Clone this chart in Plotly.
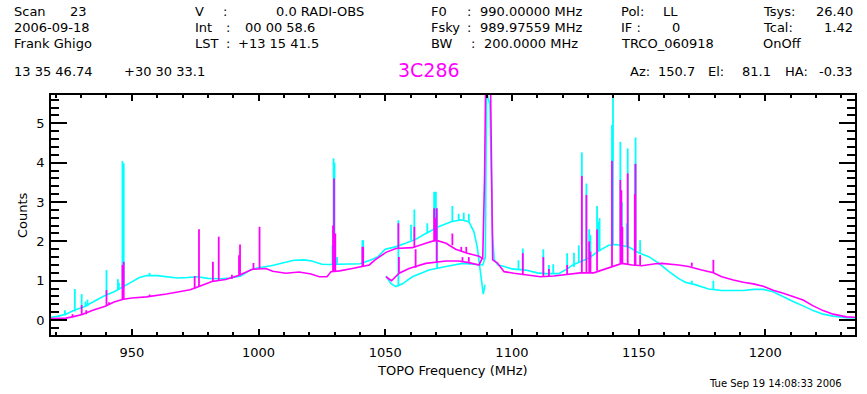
import plotly.graph_objects as go

# ---------------- data ----------------
# Cyan, spectral window A (918 - 1089 MHz)
cyan_a_freq = [918, 921, 924, 927, 931, 935, 939, 943, 946, 950, 953, 956, 960, 964, 968, 972,
               976, 980, 985, 989, 993, 997, 1000, 1005, 1010, 1014, 1018, 1021, 1025, 1028,
               1032, 1036, 1040, 1044, 1047, 1050, 1054, 1058, 1062, 1066, 1071, 1076, 1080,
               1083, 1085, 1086.3, 1087.7, 1088.7, 1089.4]
cyan_a_val = [0.07, 0.10, 0.15, 0.24, 0.33, 0.47, 0.61, 0.72, 0.82, 0.97, 1.08, 1.13, 1.13, 1.10,
              1.07, 1.08, 1.10, 1.06, 1.05, 1.07, 1.12, 1.28, 1.33, 1.38, 1.46, 1.52, 1.53, 1.50,
              1.42, 1.41, 1.42, 1.42, 1.43, 1.52, 1.60, 1.80, 1.86, 1.95, 2.05, 2.20, 2.37, 2.50,
              2.55, 2.50, 2.25, 1.86, 1.19, 0.66, 0.90]

# Cyan, spectral window B (1050 - 1235 MHz)
cyan_b_freq = [1050.3, 1052.2, 1054.2, 1056.8, 1060.7, 1067.3, 1074, 1080.5, 1085, 1088.5, 1089.5,
               1090, 1091.3, 1092, 1092.4, 1093, 1094.5, 1097, 1100, 1105.4, 1110, 1113.2, 1118.5,
               1121.8, 1124, 1127, 1130.3, 1134.3, 1138.2, 1141, 1146, 1150, 1154, 1158, 1162,
               1165.7, 1168.4, 1172.3, 1177.6, 1182.8, 1187, 1191.3, 1195.3, 1199.2, 1203.1,
               1207.1, 1211, 1214.9, 1218.9, 1222.8, 1226.8, 1232, 1235.5]
cyan_b_val = [1.12, 0.93, 0.85, 0.92, 1.10, 1.27, 1.36, 1.44, 1.42, 1.40, 1.60, 5.80, 5.47, 3.30,
              2.12, 1.53, 1.40, 1.36, 1.30, 1.27, 1.20, 1.18, 1.18, 1.30, 1.40, 1.48, 1.57, 1.76,
              1.90, 1.92, 1.86, 1.71, 1.61, 1.44, 1.23, 1.06, 0.96, 0.90, 0.79, 0.75, 0.75, 0.75,
              0.78, 0.78, 0.72, 0.59, 0.47, 0.36, 0.24, 0.15, 0.10, 0.06, 0.05]

# Magenta, spectral window A
mag_a_freq = [918, 924, 926.6, 930.4, 934.6, 939.5, 943, 946.6, 950, 955.8, 963.7, 968.9, 973,
              976.5, 981.6, 987, 992.1, 997.6, 1002.9, 1005.6, 1010.8, 1016, 1020.7, 1024, 1027,
              1028.6, 1032, 1037, 1040, 1043.7, 1046, 1050.3, 1054.2, 1060.7, 1066, 1070, 1074,
              1077.8, 1082.4, 1085, 1087, 1088.8]
mag_a_val = [0.04, 0.05, 0.08, 0.14, 0.25, 0.35, 0.46, 0.53, 0.56, 0.59, 0.66, 0.73, 0.77, 0.85,
             0.98, 1.03, 1.13, 1.29, 1.31, 1.24, 1.19, 1.22, 1.17, 1.10, 1.10, 1.23, 1.25, 1.31,
             1.35, 1.40, 1.53, 1.72, 1.82, 1.84, 1.95, 2.03, 1.95, 1.80, 1.70, 1.66, 1.62, 1.55]

# Magenta, spectral window B
mag_b_freq = [1050.3, 1052.5, 1055.5, 1059.4, 1066, 1074, 1079, 1083, 1087, 1088.5, 1089.2,
              1089.6, 1091.6, 1092.4, 1094.3, 1096.9, 1100.8, 1106, 1111.3, 1116.5, 1121.8, 1127,
              1132.3, 1135.5, 1139.5, 1143.4, 1147.4, 1151.3, 1156.6, 1159.2, 1165.7, 1169.7,
              1174.9, 1179.5, 1182.8, 1185.4, 1187.4, 1191.3, 1195.3, 1199.2, 1203.1, 1207.1,
              1211, 1214.9, 1218.9, 1222.8, 1226.8, 1232, 1235.5]
mag_b_val = [1.10, 1.00, 1.19, 1.31, 1.44, 1.50, 1.50, 1.46, 1.40, 1.60, 3.60, 5.80, 5.80, 1.53,
             1.45, 1.23, 1.19, 1.15, 1.10, 1.12, 1.17, 1.20, 1.20, 1.27, 1.36, 1.44, 1.40, 1.38,
             1.43, 1.44, 1.40, 1.36, 1.27, 1.20, 1.10, 1.05, 1.02, 0.96, 0.92, 0.86, 0.76, 0.68,
             0.59, 0.51, 0.36, 0.24, 0.15, 0.08, 0.07]

# Narrow interference spikes: frequency, continuum level, peak level
cyan_spike_freq = [923.6, 927.5, 930.2, 931.7, 932.5, 940.0, 944.5, 944.9, 946.3, 946.8, 957.0,
                   1029.2, 1029.6, 1030.0, 1031.0, 1041.0, 1041.3, 1055.2, 1060.2, 1061.5, 1066.6,
                   1069.3, 1070.0, 1070.5, 1076.5, 1079.0, 1081.0, 1083.0, 1102.6, 1104.3, 1112.4,
                   1114.6, 1116.3, 1121.8, 1124.5, 1126.4, 1127.6, 1129.4, 1130.5, 1131.0, 1133.6,
                   1134.0, 1134.6, 1139.5, 1139.9, 1142.8, 1143.4, 1145.3, 1145.7, 1148.5, 1148.8,
                   1150.6, 1171.0, 1179.5]
cyan_spike_base = [0.12, 0.22, 0.30, 0.33, 0.35, 0.64, 0.76, 0.77, 0.80, 0.82, 1.13,
                   1.41, 1.41, 1.41, 1.41, 1.43, 1.43, 0.86, 2.02, 2.04, 2.20,
                   2.30, 2.35, 1.30, 2.50, 2.53, 2.55, 2.50, 1.29, 1.28, 1.19,
                   1.18, 1.18, 1.30, 1.35, 1.45, 1.47, 1.52, 1.56, 1.57, 1.72,
                   1.73, 1.75, 1.90, 1.90, 1.91, 1.91, 1.88, 1.88, 1.80, 1.80,
                   1.70, 0.92, 0.78]
cyan_spike_peak = [0.25, 0.79, 0.66, 0.47, 0.52, 1.27, 1.04, 0.95, 4.04, 3.98, 1.20,
                   1.90, 4.11, 4.00, 1.60, 2.03, 2.03, 2.54, 2.42, 2.81, 2.46,
                   3.26, 3.26, 2.84, 2.90, 2.70, 2.73, 2.70, 1.52, 1.82, 1.80,
                   1.40, 1.42, 1.70, 1.71, 1.90, 4.26, 3.47, 2.31, 2.16, 2.90,
                   2.50, 2.59, 4.96, 5.80, 4.53, 3.00, 2.46, 4.36, 3.97, 4.64,
                   2.03, 1.00, 1.00]

mag_spike_freq = [926.6, 930.2, 932.0, 940.0, 941.0, 946.3, 946.8, 957.0, 974.8, 976.5, 982.0,
                  984.3, 989.5, 992.3, 992.7, 998.0, 1000.4, 1029.4, 1029.8, 1030.3, 1041.0, 1041.3,
                  1055.2, 1055.4, 1061.5, 1062.0, 1069.3, 1069.8, 1070.3, 1076.5, 1080.0, 1082.0,
                  1080.5, 1083.0, 1104.3, 1112.4, 1114.6, 1121.8, 1127.6, 1129.4, 1130.5, 1131.0,
                  1133.6, 1139.5, 1142.8, 1143.2, 1143.6, 1145.7, 1148.5, 1148.8, 1150.6, 1171.0,
                  1179.5]
mag_spike_base = [0.08, 0.13, 0.15, 0.36, 0.38, 0.52, 0.53, 0.60, 0.80, 0.85, 0.98,
                  1.00, 1.05, 1.13, 1.13, 1.29, 1.30, 1.23, 1.23, 1.23, 1.35, 1.35,
                  1.82, 1.20, 1.84, 1.33, 2.00, 2.00, 1.47, 1.90, 1.75, 1.70,
                  1.50, 1.48, 1.14, 1.10, 1.11, 1.17, 1.20, 1.20, 1.20, 1.20,
                  1.25, 1.36, 1.44, 1.44, 1.44, 1.40, 1.38, 1.38, 1.38, 1.36,
                  1.20]
mag_spike_peak = [0.15, 0.38, 0.25, 0.76, 0.45, 1.40, 1.48, 0.65, 1.12, 2.31, 1.48,
                  2.12, 1.15, 1.65, 1.92, 1.45, 2.37, 2.40, 3.60, 2.20, 1.86, 1.86,
                  2.46, 1.60, 2.37, 1.80, 2.84, 2.60, 2.84, 2.20, 1.86, 1.86,
                  1.60, 1.60, 1.70, 1.60, 1.30, 1.40, 3.66, 3.18, 2.00, 1.74,
                  2.30, 4.05, 3.56, 3.30, 2.37, 3.73, 3.20, 3.97, 1.65, 1.46,
                  1.53]

x_tick_vals = [950, 1000, 1050, 1100, 1150, 1200]
y_tick_vals = [0, 1, 2, 3, 4, 5]

CYAN = "#00FFFF"
MAGENTA = "#FF00FF"
FONT = "DejaVu Sans"


def spike_xy(freqs, bases, peaks):
    xs, ys = [], []
    for f, b, p in zip(freqs, bases, peaks):
        xs += [f, f, None]
        ys += [b, p, None]
    return xs, ys


fig = go.Figure()

for fx, fy in [(cyan_a_freq, cyan_a_val), (cyan_b_freq, cyan_b_val)]:
    fig.add_trace(go.Scatter(x=fx, y=fy, mode="lines", line=dict(color=CYAN, width=1.6),
                             hoverinfo="skip", showlegend=False))
sx, sy = spike_xy(cyan_spike_freq, cyan_spike_base, cyan_spike_peak)
fig.add_trace(go.Scatter(x=sx, y=sy, mode="lines", line=dict(color=CYAN, width=1.8),
                         hoverinfo="skip", showlegend=False))

for fx, fy in [(mag_a_freq, mag_a_val), (mag_b_freq, mag_b_val)]:
    fig.add_trace(go.Scatter(x=fx, y=fy, mode="lines", line=dict(color=MAGENTA, width=1.6),
                             hoverinfo="skip", showlegend=False))
sx, sy = spike_xy(mag_spike_freq, mag_spike_base, mag_spike_peak)
fig.add_trace(go.Scatter(x=sx, y=sy, mode="lines", line=dict(color=MAGENTA, width=1.8),
                         hoverinfo="skip", showlegend=False))

# ---------------- layout ----------------
W, H = 867, 394
L, R, T, B = 51, 857, 95, 335


def px(x):
    return (x - L) / (R - L)


def py(y):
    return (B - y) / (B - T)


annotations = []


def txt(text, x, y, anchor="left", size=13, color="black"):
    annotations.append(dict(text=text, x=px(x), y=py(y), xref="paper", yref="paper",
                            xanchor=anchor, yanchor="middle", showarrow=False,
                            font=dict(family=FONT, size=size, color=color)))


# header block
txt("Scan", 12, 12); txt("23", 68, 12)
txt("2006-09-18", 12, 27.5)
txt("Frank Ghigo", 12, 43)
txt("13 35 46.74", 12, 71.5); txt("+30 30 33.1", 122, 71.5)
txt("V", 193, 12); txt(":", 221, 12); txt("0.0 RADI-OBS", 275, 12)
txt("Int", 193, 27.5); txt(":", 224, 27.5); txt("00 00 58.6", 243, 27.5)
txt("LST", 193, 43); txt(":", 224, 43); txt("+13 15 41.5", 236, 43)
txt("F0", 430, 12); txt(":", 466, 12); txt("990.00000 MHz", 479, 12)
txt("Fsky", 430, 27.5); txt(":", 466, 27.5); txt("989.97559 MHz", 479, 27.5)
txt("BW", 430, 43); txt(":", 470, 43); txt("200.0000 MHz", 483, 43)
txt("Pol:", 620, 12); txt("LL", 663, 12)
txt("IF :", 620, 27.5); txt("0", 672, 27.5)
txt("TRCO_060918", 620, 43)
txt("Tsys:", 763, 12); txt("26.40", 857, 12, anchor="right")
txt("Tcal:", 763, 27.5); txt("1.42", 857, 27.5, anchor="right")
txt("OnOff", 763, 43)
txt("3C286", 397, 70, size=19, color=MAGENTA)
txt("Az:", 629, 71.5); txt("150.7", 658, 71.5)
txt("El:", 708, 71.5); txt("81.1", 742, 71.5)
txt("HA:", 785, 71.5); txt("-0.33", 857, 71.5, anchor="right")
# axis titles and footer
annotations.append(dict(text="Counts", x=px(22), y=py(215), xref="paper", yref="paper",
                        xanchor="center", yanchor="middle", showarrow=False, textangle=-90,
                        font=dict(family=FONT, size=13, color="black")))
txt("TOPO Frequency (MHz)", 453, 370, anchor="center")
txt("Tue Sep 19 14:08:33 2006", 846, 383, anchor="right", size=10)

axis_common = dict(showline=True, linecolor="black", linewidth=1.5, mirror="ticks",
                   ticks="inside", tickcolor="black", tickwidth=1.5, showgrid=False,
                   zeroline=False, tickfont=dict(family=FONT, size=13, color="black"))

fig.update_layout(
    width=W, height=H, autosize=False,
    margin=dict(l=L, r=W - R, t=T, b=H - B),
    paper_bgcolor="white", plot_bgcolor="white",
    showlegend=False,
    annotations=annotations,
    xaxis=dict(range=[918.1, 1235.4], tickmode="array", tickvals=x_tick_vals,
               ticklen=6, ticklabelstandoff=5,
               minor=dict(ticks="inside", dtick=10, tick0=950, ticklen=3,
                          tickcolor="black", tickwidth=1.5),
               **axis_common),
    yaxis=dict(range=[-0.38, 5.72], tickmode="array", tickvals=y_tick_vals,
               ticklen=16, ticklabelstandoff=2,
               minor=dict(ticks="inside", dtick=0.2, tick0=0, ticklen=8,
                          tickcolor="black", tickwidth=1.5),
               **axis_common),
)

fig.write_html("out.html", config={"displayModeBar": False},
               post_script="document.body.style.margin='0';document.body.style.overflow='hidden';")
